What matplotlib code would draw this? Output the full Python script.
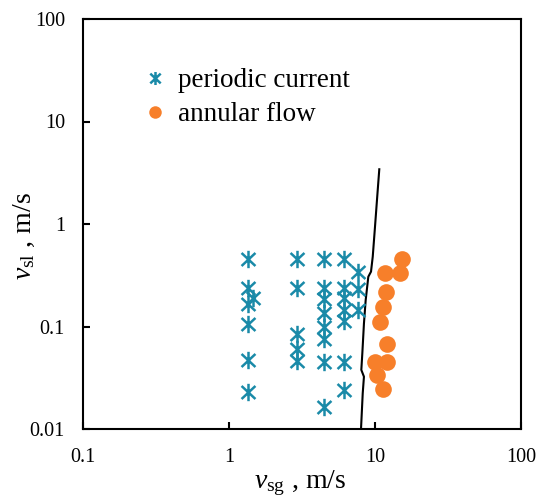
import matplotlib
matplotlib.use("Agg")
import matplotlib.pyplot as plt
from matplotlib.path import Path
from matplotlib.ticker import FixedLocator, FixedFormatter, NullLocator

# ---- data ----
periodic_x = [1.36, 1.36, 1.45, 1.36, 1.36, 1.36, 1.36,
              2.94, 2.94, 2.94, 2.94, 2.94,
              4.48, 4.48, 4.48, 4.48, 4.48, 4.48, 4.48, 4.48,
              6.1, 6.1, 6.1, 6.1, 6.1, 6.1, 6.1,
              7.69, 7.69, 7.69]
periodic_y = [0.456, 0.236, 0.19, 0.165, 0.105, 0.047, 0.023,
              0.456, 0.236, 0.085, 0.06, 0.046,
              0.456, 0.236, 0.185, 0.136, 0.098, 0.076, 0.045, 0.0165,
              0.456, 0.236, 0.19, 0.145, 0.113, 0.045, 0.024,
              0.34, 0.23, 0.146]

annular_x = [15.2, 14.8, 11.7, 11.9, 11.4, 10.9, 12.1, 12.0, 10.0, 10.3, 11.4]
annular_y = [0.452, 0.330, 0.330, 0.219, 0.156, 0.111, 0.0675, 0.0454, 0.0454, 0.0336, 0.0244]

boundary_x = [10.7, 10.4, 10.0, 9.65, 9.39, 9.0, 8.63, 8.4, 8.19, 8.06, 8.4, 8.24, 8.02]
boundary_y = [3.42, 2.0, 0.94, 0.48, 0.343, 0.306, 0.18, 0.107, 0.055, 0.0377, 0.0324, 0.0223, 0.01]

x_ticks = [0.1, 1, 10, 100]
x_ticklabels = ["0.1", "1", "10", "100"]
y_ticks = [0.01, 0.1, 1, 10, 100]
y_ticklabels = ["0.01", "0.1", "1", "10", "100"]

legend_labels = ["periodic current", "annular flow"]

# ---- style ----
plt.rcParams['font.family'] = ['Liberation Serif', 'DejaVu Serif']
plt.rcParams['mathtext.fontset'] = 'custom'
plt.rcParams['mathtext.rm'] = 'Liberation Serif'
plt.rcParams['mathtext.it'] = 'Liberation Serif:italic'

blue = '#1a8aa8'
orange = '#f77f2a'

star = Path([(0, -1), (0, 1), (-0.8, -0.75), (0.8, 0.75), (-0.8, 0.75), (0.8, -0.75)],
            [Path.MOVETO, Path.LINETO, Path.MOVETO, Path.LINETO, Path.MOVETO, Path.LINETO])

fig = plt.figure(figsize=(5.5, 5.04), dpi=100)
ax = fig.add_axes([83/550, 1 - 429/504, (521-83)/550, (429-19)/504])

ax.plot(boundary_x, boundary_y, color='black', lw=1.5, zorder=2)
ax.plot(periodic_x, periodic_y, linestyle='none', marker=star, markersize=12.5,
        markeredgewidth=1.8, markeredgecolor=blue, markerfacecolor='none',
        label=legend_labels[0], zorder=3)
ax.plot(annular_x, annular_y, linestyle='none', marker='o', markersize=12,
        markeredgewidth=0, markerfacecolor=orange, label=legend_labels[1], zorder=3)

ax.set_xscale('log')
ax.set_yscale('log')
ax.set_xlim(0.1, 100)
ax.set_ylim(0.01, 100)

ax.xaxis.set_major_locator(FixedLocator(x_ticks))
ax.xaxis.set_major_formatter(FixedFormatter(x_ticklabels))
ax.yaxis.set_major_locator(FixedLocator(y_ticks))
ax.yaxis.set_major_formatter(FixedFormatter(y_ticklabels))
ax.xaxis.set_minor_locator(NullLocator())
ax.yaxis.set_minor_locator(NullLocator())
ax.tick_params(axis='both', which='major', direction='in', length=5, width=1.5,
               labelsize=14.5, colors='black')
ax.tick_params(axis='x', pad=13.5)
ax.tick_params(axis='y', pad=13)

for s in ax.spines.values():
    s.set_linewidth(1.5)
    s.set_color('black')

ax.set_xlabel(r'$v_{\mathrm{sg}}$ , m/s', fontsize=20)
ax.set_ylabel(r'$v_{\mathrm{sl}}$ , m/s', fontsize=20)
ax.xaxis.set_label_coords(0.495, -0.095)
ax.yaxis.set_label_coords(-0.105, 0.47)

ax.legend(loc='upper left', bbox_to_anchor=(0.145, 0.88), frameon=False,
          fontsize=19.5, handlelength=0.6, handletextpad=0.55, labelspacing=0.33,
          borderaxespad=0, borderpad=0, markerscale=0.75)

fig.savefig('out.png', dpi=100)
